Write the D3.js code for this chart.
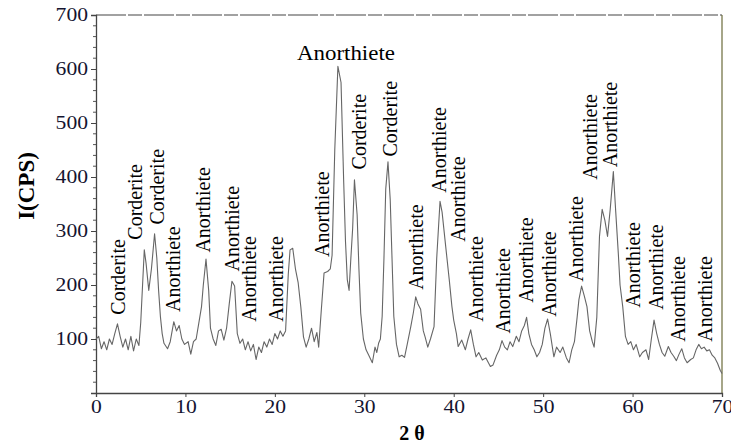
<!DOCTYPE html>
<html><head><meta charset="utf-8">
<script src="https://cdn.jsdelivr.net/npm/d3@7"></script>
<style>body{margin:0;background:#fff}svg{display:block}</style>
</head><body><svg id="c" width="731" height="448"></svg>
<script>
const theta = [0.0,0.3,0.6,0.9,1.2,1.5,1.8,2.1,2.4,2.7,3.0,3.3,3.6,3.9,4.2,4.5,4.8,5.0,5.4,5.6,5.9,6.2,6.55,6.8,7.0,7.2,7.4,7.6,8.0,8.3,8.7,9.0,9.3,9.6,9.9,10.3,10.6,10.9,11.2,11.5,11.8,12.0,12.3,12.6,12.8,13.1,13.4,13.7,14.0,14.3,14.6,14.9,15.2,15.5,15.8,16.1,16.4,16.7,17.0,17.3,17.6,17.9,18.2,18.5,18.8,19.1,19.4,19.7,20.0,20.3,20.6,20.9,21.2,21.5,21.7,22.0,22.3,22.6,22.9,23.2,23.5,23.8,24.1,24.4,24.7,24.9,25.2,25.5,25.9,26.2,26.4,26.7,27.05,27.4,27.7,27.9,28.1,28.3,28.5,28.7,28.9,29.2,29.4,29.6,29.9,30.2,30.5,30.9,31.2,31.4,31.6,31.8,32.0,32.2,32.4,32.65,32.9,33.1,33.3,33.6,33.9,34.2,34.5,34.8,35.2,35.5,35.75,36.0,36.3,36.6,36.8,37.1,37.4,37.8,38.1,38.47,38.7,39.1,39.5,39.8,40.0,40.3,40.5,40.9,41.3,41.6,41.9,42.2,42.5,42.8,43.2,43.6,44.1,44.4,44.8,45.1,45.4,45.7,46.0,46.3,46.6,47.0,47.3,47.6,47.9,48.15,48.4,48.7,49.0,49.3,49.6,49.9,50.2,50.5,50.8,51.2,51.5,51.9,52.2,52.6,52.9,53.2,53.5,53.8,54.0,54.3,54.6,54.9,55.2,55.5,55.7,56.0,56.3,56.6,56.9,57.2,57.5,57.85,58.1,58.4,58.6,58.9,59.2,59.5,59.8,60.1,60.4,60.8,61.1,61.5,61.8,62.1,62.4,62.7,63.0,63.3,63.6,64.0,64.3,64.6,64.9,65.2,65.5,65.8,66.1,66.5,66.8,67.1,67.4,67.7,68.0,68.3,68.6,68.9,69.2,69.5,69.8,70.0];
const intensity = [100,105,82,95,80,100,90,110,128,105,85,100,80,105,78,100,88,130,265,240,190,230,295,250,190,142,110,92,82,95,132,115,125,100,90,95,72,95,100,130,160,200,248,190,120,100,88,115,118,98,120,165,207,198,110,92,100,80,95,78,90,62,85,75,95,85,100,90,110,100,115,105,115,220,265,268,230,205,160,104,85,100,120,95,112,85,155,222,225,230,255,450,605,575,390,280,210,190,250,305,395,330,230,148,100,80,70,56,85,75,92,100,142,250,378,428,358,250,142,90,67,70,66,90,123,150,178,165,155,115,104,85,100,123,250,355,335,272,210,160,135,110,86,98,80,100,117,90,67,75,61,65,49,52,70,80,97,85,80,95,86,105,95,115,125,140,110,90,80,67,75,90,120,137,110,67,85,75,85,65,56,80,95,140,173,198,180,160,115,95,85,140,290,340,320,290,340,410,340,260,200,160,105,90,95,80,90,67,75,80,62,100,135,110,90,75,68,86,75,68,60,72,82,65,56,62,65,80,90,82,85,78,80,70,65,55,42,36];

// peak annotations: phase name, two-theta of label baseline, intensity where text starts
const labelNames = ["Corderite","Corderite","Corderite","Anorthiete","Anorthiete","Anorthiete","Anorthiete","Anorthiete","Anorthiete","Corderite","Corderite","Anorthiete","Anorthiete","Anorthiete","Anorthiete","Anorthiete","Anorthiete","Anorthiete","Anorthiete","Anorthiete","Anorthiete","Anorthiete","Anorthiete","Anorthiete","Anorthiete"];
const labelTheta = [3.24,5.14,7.60,9.39,12.75,15.99,17.89,20.91,26.05,30.18,33.66,36.56,39.14,41.26,43.27,46.29,48.86,51.44,54.46,56.02,58.26,60.83,63.40,65.86,68.88];
const labelI = [145,284,312,150,260,225,132,132,252,414,438,191,371,280,132,110,167,141,206,395,418,158,154,95,95];
const topLabel = {name:"Anorthiete", theta:27.95, I:616};

const xTicks = [0,10,20,30,40,50,60,70];
const yTicks = [100,200,300,400,500,600,700];
const yMinor = d3.range(20,700,20).filter(v => v % 100 !== 0);

const svg = d3.select("#c");
const x = d3.scaleLinear().domain([0,70]).range([96,722]);
const y = d3.scaleLinear().domain([0,700]).range([393,15]);
const serif = "'Liberation Serif','Times New Roman',serif";

// frame (top and right)
svg.append("line").attr("x1",x(0)).attr("x2",x(70)).attr("y1",y(700)).attr("y2",y(700))
  .attr("stroke","#444").attr("stroke-width",1.2).attr("stroke-dasharray","30,2,14,2");
svg.append("line").attr("x1",x(70)).attr("x2",x(70)).attr("y1",y(700)).attr("y2",y(0))
  .attr("stroke","#6b6b3a").attr("stroke-width",1.2);

// minor y ticks
svg.append("g").selectAll("line").data(yMinor).join("line")
  .attr("x1",x(0)-3).attr("x2",x(0)).attr("y1",d=>y(d)).attr("y2",d=>y(d))
  .attr("stroke","#555").attr("stroke-width",1);

const yAxis = svg.append("g").attr("transform",`translate(${x(0)},0)`)
  .call(d3.axisLeft(y).tickValues(yTicks).tickSize(5).tickPadding(3));
const xAxis = svg.append("g").attr("transform",`translate(0,${y(0)})`)
  .call(d3.axisBottom(x).tickValues(xTicks).tickSize(4).tickPadding(3));
[yAxis,xAxis].forEach(g=>{
  g.select(".domain").attr("stroke","#444").attr("stroke-width",1.3);
  g.selectAll(".tick line").attr("stroke","#444");
  g.selectAll("text").attr("font-family",serif).attr("font-size",18).attr("fill","#141430")
    .each(function(){ const L=this.getComputedTextLength(); d3.select(this).attr("textLength",L*1.2).attr("lengthAdjust","spacingAndGlyphs"); });
});

// curve
const line = d3.line().x((d,i)=>x(theta[i])).y((d,i)=>y(intensity[i]));
svg.append("path").datum(intensity).attr("d",line).attr("fill","none")
  .attr("stroke","#666").attr("stroke-width",1.1).attr("stroke-linejoin","round");

// vertical peak labels
svg.append("g").selectAll("text").data(labelNames).join("text")
  .attr("transform",(d,i)=>`translate(${x(labelTheta[i])},${y(labelI[i])}) rotate(-90)`)
  .attr("font-family",serif).attr("font-size",20).attr("fill","#000").text(d=>d);

svg.append("text").attr("x",x(topLabel.theta)).attr("y",y(topLabel.I))
  .attr("text-anchor","middle").attr("font-family",serif).attr("font-size",20)
  .attr("textLength",98).attr("lengthAdjust","spacingAndGlyphs").text(topLabel.name);

// axis titles
svg.append("text").attr("transform",`translate(34,186) rotate(-90)`).attr("text-anchor","middle")
  .attr("font-family",serif).attr("font-weight","bold").attr("font-size",23).text("I(CPS)");
svg.append("text").attr("x",412).attr("y",440).attr("text-anchor","middle")
  .attr("font-family",serif).attr("font-weight","bold").attr("font-size",20).text("2 θ");
</script></body></html>
